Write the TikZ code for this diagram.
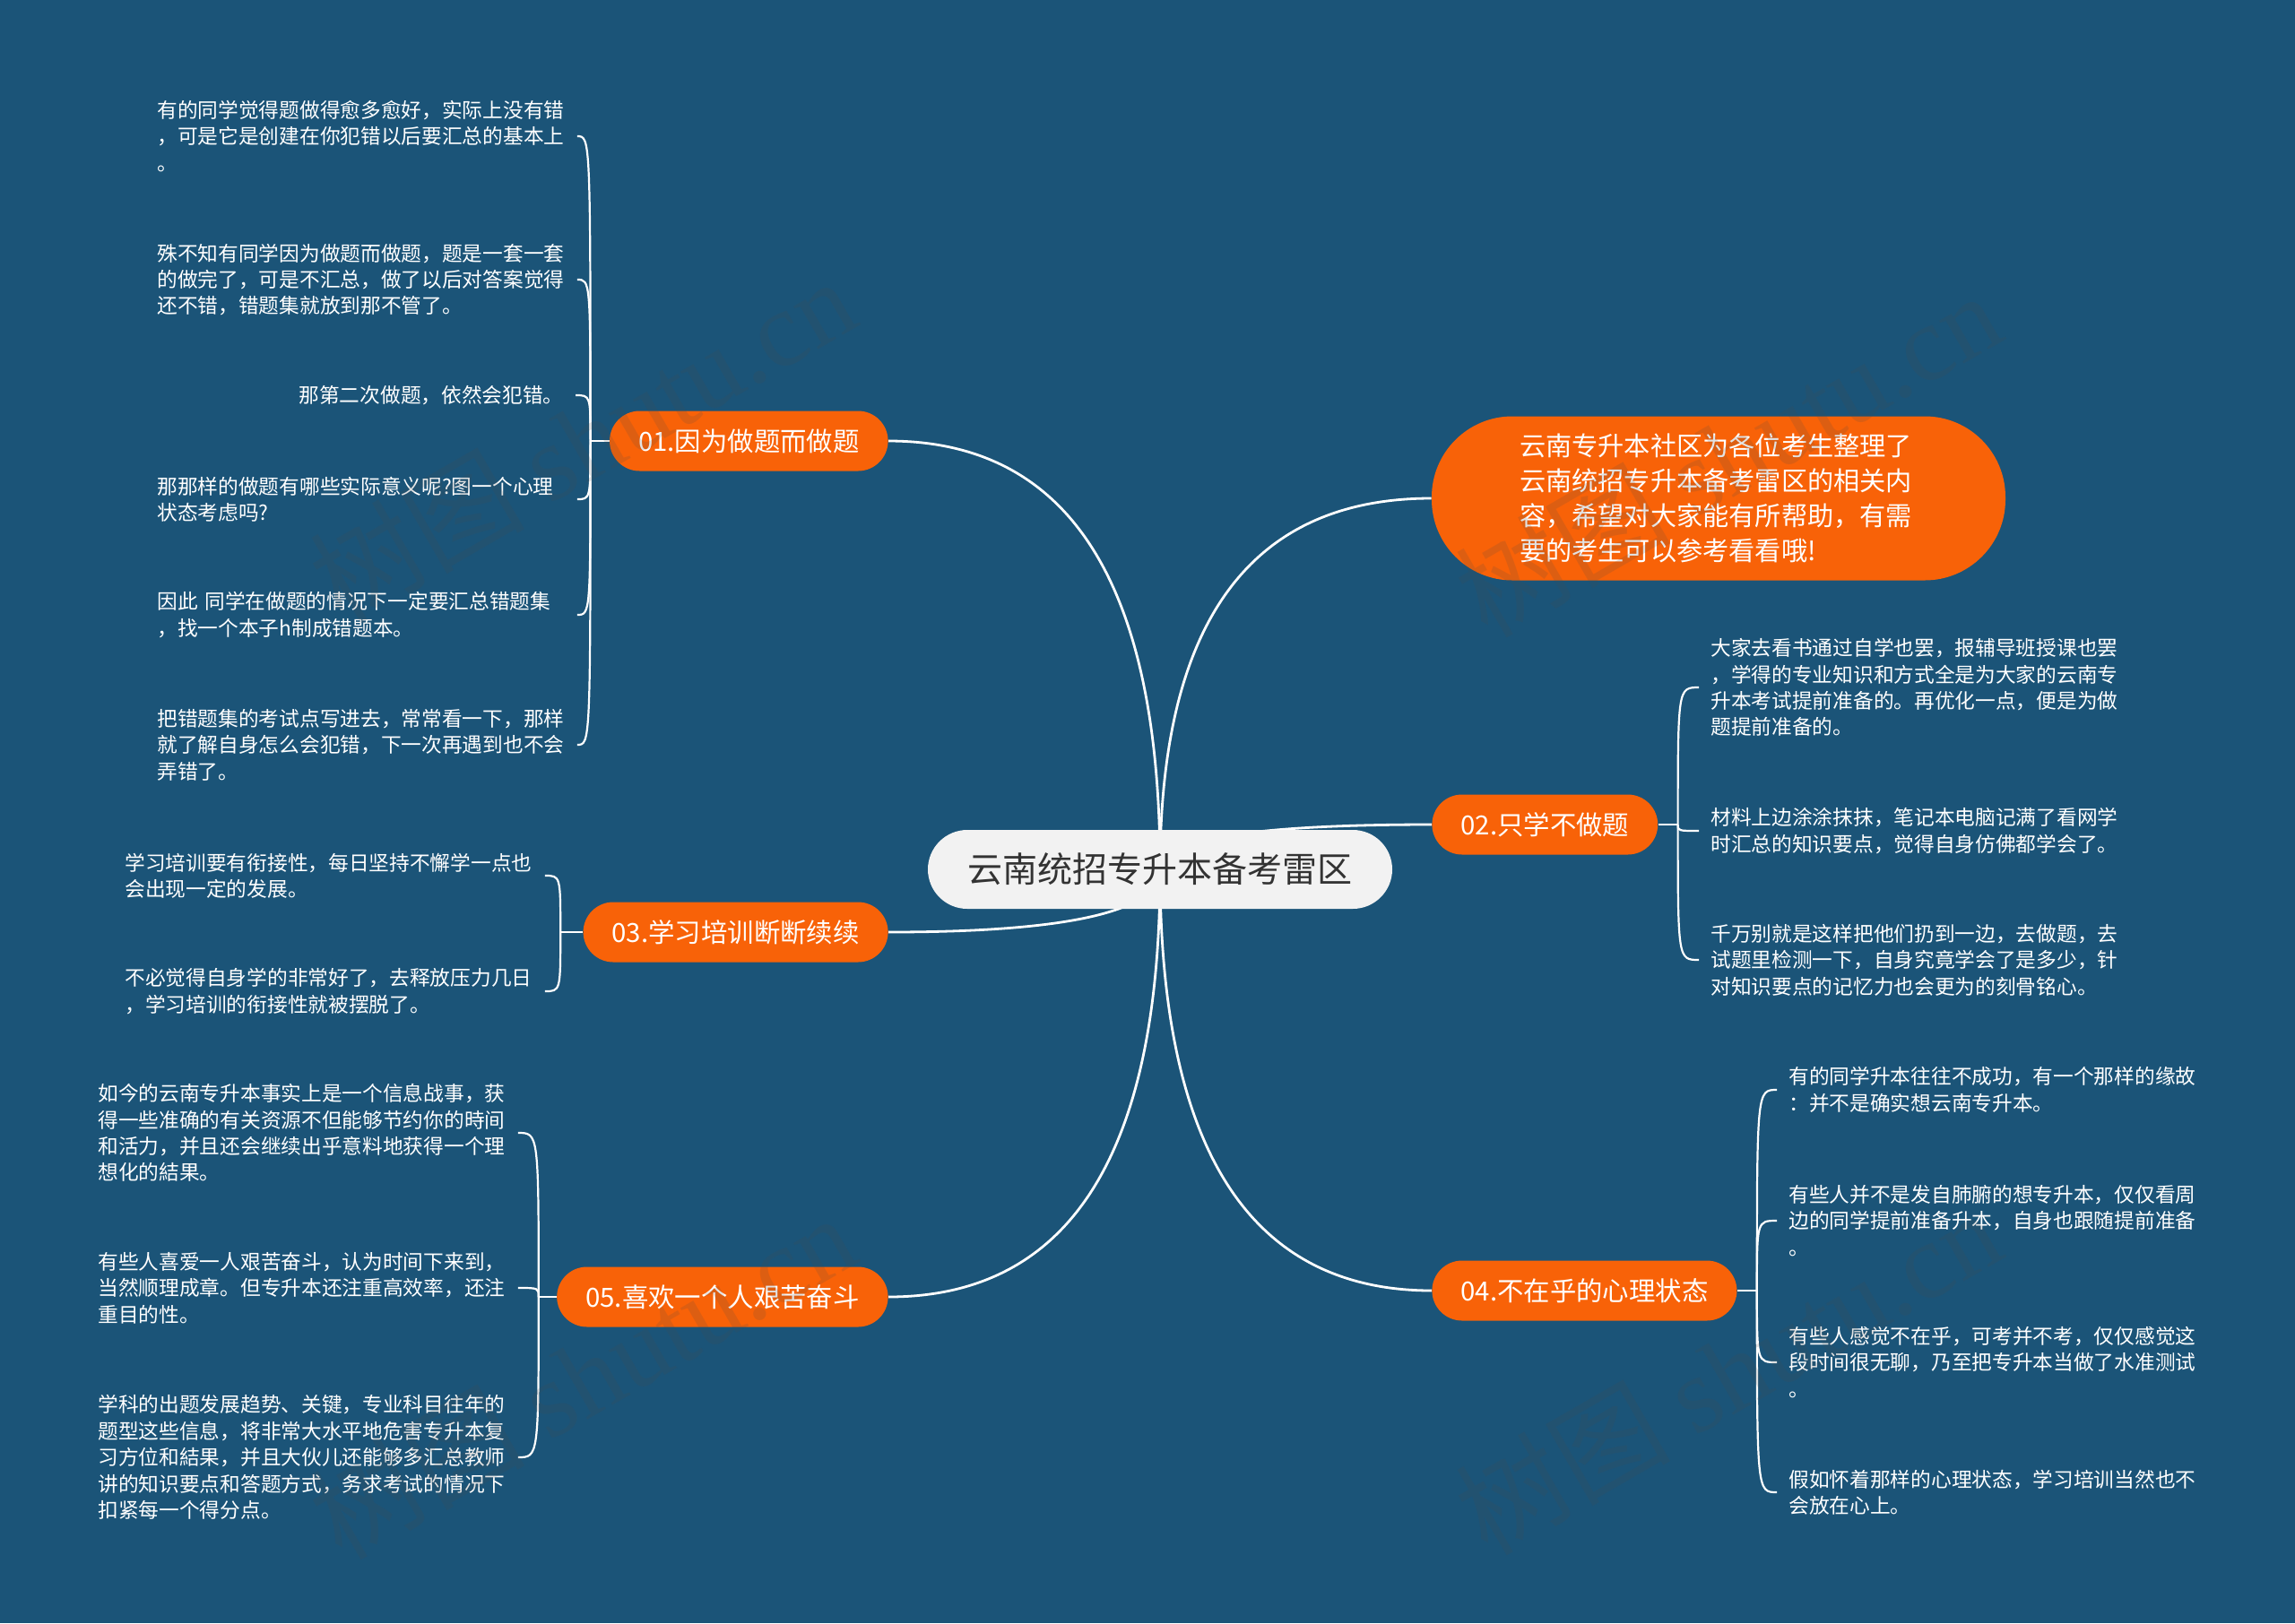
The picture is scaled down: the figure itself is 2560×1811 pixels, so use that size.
\documentclass[tikz,border=0pt]{standalone}
\usepackage{fontspec}
\setmainfont{Noto Sans CJK SC}
\newfontfamily\wmfont{Liberation Serif}
\usetikzlibrary{calc}
\definecolor{bgc}{RGB}{27,84,120}
\definecolor{org}{RGB}{248,98,8}
\definecolor{rootfill}{RGB}{242,242,242}
\definecolor{roottext}{RGB}{51,51,51}
\pgfdeclarelayer{back}
\pgfdeclarelayer{lines}
\pgfsetlayers{back,lines,main}
\tikzset{
  rootbox/.style={fill=rootfill, text=roottext, rounded corners=22pt, minimum width=259pt, minimum height=44pt, inner sep=0pt, font=\fontsize{19.5}{23}\selectfont},
  introbox/.style={fill=org, text=white, rounded corners=45pt, minimum width=320pt, minimum height=91.5pt, inner sep=0pt, text width=222pt, align=left, font=\fontsize{14.6}{19.5}\selectfont},
  branchbox/.style={fill=org, text=white, rounded corners=16.75pt, minimum height=33.5pt, inner xsep=16pt, inner ysep=0pt, font=\fontsize{14.7}{17}\selectfont},
  leafbox/.style={text=white, align=left, text width=227.5pt, inner xsep=6.5pt, inner ysep=0pt, font=\fontsize{11.35}{14.7}\selectfont},
  leafshort/.style={text=white, inner xsep=6.5pt, inner ysep=0pt, font=\fontsize{11.35}{14.7}\selectfont},
  mainline/.style={draw=white, line width=1.4pt},
  leafline/.style={draw=white, line width=1.1pt},
  wmark/.style={text=black!70, opacity=0.16, font=\fontsize{60}{60}\selectfont, inner sep=0pt}
}
\begin{document}
\begin{tikzpicture}[x=0.5pt,y=-0.5pt]
\begin{pgfonlayer}{back}
\fill[bgc] (0,0) rectangle (2560,1811);
\end{pgfonlayer}
\useasboundingbox (0,0) rectangle (2560,1811);

% central and branch nodes
\node[rootbox] (root) at (1294,970) {云南统招专升本备考雷区};
\node[introbox] (intro) at (1917,556) {云南专升本社区为各位考生整理了\\云南统招专升本备考雷区的相关内\\容，希望对大家能有所帮助，有需\\要的考生可以参考看看哦!};
\node[branchbox, anchor=west] (n02) at (1597,920) {02.只学不做题};
\node[branchbox, anchor=west] (n04) at (1597,1440) {04.不在乎的心理状态};
\node[branchbox, anchor=east] (n01) at (991,492) {01.因为做题而做题};
\node[branchbox, anchor=east] (n03) at (991,1040) {03.学习培训断断续续};
\node[branchbox, anchor=east] (n05) at (991,1447) {05.喜欢一个人艰苦奋斗};

% leaves of 01
\node[leafbox, anchor=west] (l1a) at (162,152) {有的同学觉得题做得愈多愈好，实际上没有错\\，可是它是创建在你犯错以后要汇总的基本上\\。};
\node[leafbox, anchor=west] (l1b) at (162,312) {殊不知有同学因为做题而做题，题是一套一套\\的做完了，可是不汇总，做了以后对答案觉得\\还不错，错题集就放到那不管了。};
\node[leafshort, anchor=east] (l1c) at (642,441) {那第二次做题，依然会犯错。};
\node[leafbox, anchor=west] (l1d) at (162,557) {那那样的做题有哪些实际意义呢?图一个心理\\状态考虑吗?};
\node[leafbox, anchor=west] (l1e) at (162,686) {因此 同学在做题的情况下一定要汇总错题集\\，找一个本子h制成错题本。};
\node[leafbox, anchor=west] (l1f) at (162,831) {把错题集的考试点写进去，常常看一下，那样\\就了解自身怎么会犯错，下一次再遇到也不会\\弄错了。};

% leaves of 03
\node[leafbox, anchor=west] (l3a) at (126,977) {学习培训要有衔接性，每日坚持不懈学一点也\\会出现一定的发展。};
\node[leafbox, anchor=west] (l3b) at (126,1106) {不必觉得自身学的非常好了，去释放压力几日\\，学习培训的衔接性就被摆脱了。};

% leaves of 05
\node[leafbox, anchor=west] (l5a) at (96,1264) {如今的云南专升本事实上是一个信息战事，获\\得一些准确的有关资源不但能够节约你的時间\\和活力，并且还会继续出乎意料地获得一个理\\想化的結果。};
\node[leafbox, anchor=west] (l5b) at (96,1437) {有些人喜爱一人艰苦奋斗，认为时间下来到，\\当然顺理成章。但专升本还注重高效率，还注\\重目的性。};
\node[leafbox, anchor=west] (l5c) at (96,1626) {学科的出题发展趋势、关键，专业科目往年的\\题型这些信息，将非常大水平地危害专升本复\\习方位和結果，并且大伙儿还能够多汇总教师\\讲的知识要点和答题方式，务求考试的情况下\\扣紧每一个得分点。};

% leaves of 02
\node[leafbox, anchor=west] (l2a) at (1895,767) {大家去看书通过自学也罢，报辅导班授课也罢\\，学得的专业知识和方式全是为大家的云南专\\升本考试提前准备的。再优化一点，便是为做\\题提前准备的。};
\node[leafbox, anchor=west] (l2b) at (1895,927) {材料上边涂涂抹抹，笔记本电脑记满了看网学\\时汇总的知识要点，觉得自身仿佛都学会了。};
\node[leafbox, anchor=west] (l2c) at (1895,1071) {千万别就是这样把他们扔到一边，去做题，去\\试题里检测一下，自身究竟学会了是多少，针\\对知识要点的记忆力也会更为的刻骨铭心。};

% leaves of 04
\node[leafbox, anchor=west] (l4a) at (1982,1216) {有的同学升本往往不成功，有一个那样的缘故\\：并不是确实想云南专升本。};
\node[leafbox, anchor=west] (l4b) at (1982,1362) {有些人并不是发自肺腑的想专升本，仅仅看周\\边的同学提前准备升本，自身也跟随提前准备\\。};
\node[leafbox, anchor=west] (l4c) at (1982,1520) {有些人感觉不在乎，可考并不考，仅仅感觉这\\段时间很无聊，乃至把专升本当做了水准测试\\。};
\node[leafbox, anchor=west] (l4d) at (1982,1665) {假如怀着那样的心理状态，学习培训当然也不\\会放在心上。};

% junctions
\coordinate (j01) at ($(n01.west)+(-21,0)$);
\coordinate (j03) at ($(n03.west)+(-25,0)$);
\coordinate (j05) at ($(n05.west)+(-20,0)$);
\coordinate (j02) at ($(n02.east)+(22,0)$);
\coordinate (j04) at ($(n04.east)+(22,0)$);

\begin{pgfonlayer}{lines}
% main connectors
\foreach \t/\a in {n01/east, n03/east, n05/east, intro/west, n02/west, n04/west}{
  \draw[mainline] (root.center) .. controls ($(root.center)!0.667!(root.center |- \t.\a)$) and ($(\t.\a)!0.667!(root.center |- \t.\a)$) .. (\t.\a);
}
% short stems
\draw[leafline] (n01.west) -- (j01);
\draw[leafline] (n03.west) -- (j03);
\draw[leafline] (n05.west) -- (j05);
\draw[leafline] (n02.east) -- (j02);
\draw[leafline] (n04.east) -- (j04);
% leaf connectors
\foreach \j/\l in {j01/l1a, j01/l1b, j01/l1c, j01/l1d, j01/l1e, j01/l1f, j03/l3a, j03/l3b, j05/l5a, j05/l5b, j05/l5c}{
  \draw[leafline] (\j) .. controls (\j |- \l.east) and (\j |- \l.east) .. (\l.east);
}
\foreach \j/\l in {j02/l2a, j02/l2b, j02/l2c, j04/l4a, j04/l4b, j04/l4c, j04/l4d}{
  \draw[leafline] (\j) .. controls (\j |- \l.west) and (\j |- \l.west) .. (\l.west);
}
\end{pgfonlayer}

% watermarks
\node[wmark, rotate=30] (wm1) at (649,490) {树图 {\wmfont shutu.cn}};
\node[wmark, rotate=30] (wm2) at (1927,506) {树图 {\wmfont shutu.cn}};
\node[wmark, rotate=30] (wm3) at (649,1535) {树图 {\wmfont shutu.cn}};
\node[wmark, rotate=30] (wm4) at (1927,1530) {树图 {\wmfont shutu.cn}};
\end{tikzpicture}
\end{document}
